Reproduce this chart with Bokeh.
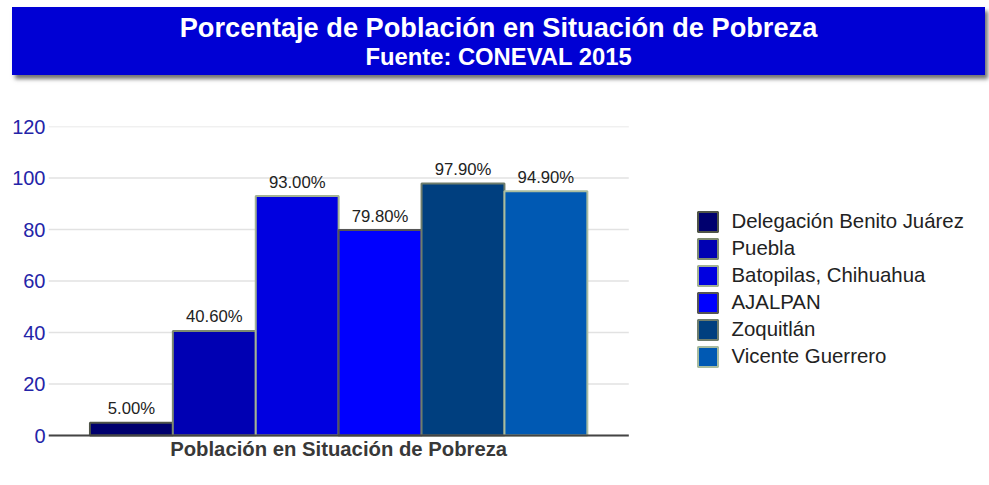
from bokeh.plotting import figure
from bokeh.models import (Range1d, FixedTicker, Legend, LegendItem, ColumnDataSource, Div)
from bokeh.layouts import column
from bokeh.core.properties import value
from bokeh.embed import file_html
from bokeh.resources import INLINE

# ---- data ----
title_line1 = "Porcentaje de Población en Situación de Pobreza"
title_line2 = "Fuente: CONEVAL 2015"
category_label = "Población en Situación de Pobreza"
series_names = ["Delegación Benito Juárez", "Puebla", "Batopilas, Chihuahua",
                "AJALPAN", "Zoquitlán", "Vicente Guerrero"]
series_values = [5.0, 40.6, 93.0, 79.8, 97.9, 94.9]
y_ticks = [0, 20, 40, 60, 80, 100, 120]

# ---- styles ----
fill_colors = ["#00006e", "#0000b3", "#0000e0", "#0000ff", "#003f7f", "#0059b3"]
line_colors = ["#4f5448", "#7d8a70", "#a3b293", "#555555", "#6e7d6c", "#a8bca0"]
FONT = "Liberation Sans"
W = 989
HB = 90
HC = 485 - HB

banner_html = (
    '<div style="position:relative;width:%dpx;height:%dpx;'
    "font-family:'Liberation Sans',Arial,sans-serif;font-weight:bold;color:#ffffff;\">"
    '<div style="position:absolute;left:12px;top:7px;width:973px;height:68px;'
    'background:#0000d4;box-shadow:3px 4px 4px rgba(0,0,0,0.55);"></div>'
    '<div style="position:absolute;left:12px;width:973px;top:14px;text-align:center;'
    'font-size:27.2px;line-height:27px;white-space:nowrap;">%s</div>'
    '<div style="position:absolute;left:12px;width:973px;top:45px;text-align:center;'
    'font-size:23.8px;line-height:23.5px;white-space:nowrap;">%s</div>'
    '</div>'
) % (W, HB, title_line1, title_line2)
banner = Div(text=banner_html, width=W, height=HB, margin=0)

# scale: 120 units over 309 px vertically, one bar = 82.9 px horizontally
BT, BL = 36, 48
px_per_unit_y = 309 / 120
px_per_unit_x = 82.9
frame_h = HC - BT
frame_w = W - BL
p = figure(width=W, height=HC, output_backend="svg", toolbar_location=None,
           x_range=Range1d(0, frame_w / px_per_unit_x),
           y_range=Range1d(120 - frame_h / px_per_unit_y, 120),
           min_border_left=BL, min_border_right=0, min_border_top=BT,
           min_border_bottom=0, outline_line_color=None, margin=0)

xs = list(range(1, len(series_values) + 1))
x_lo, x_hi = 0, len(xs) + 1

# grid lines (only across the plotting area)
grid_src = ColumnDataSource(dict(x0=[x_lo] * len(y_ticks), x1=[x_hi] * len(y_ticks),
                                 y=y_ticks))
p.segment(x0="x0", x1="x1", y0="y", y1="y", source=grid_src,
          line_color="#e2e2e2", line_width=1.5)

src = ColumnDataSource(dict(x=xs, top=series_values,
                            lab=["%.2f%%" % v for v in series_values]))
items = []
for i in range(len(series_values)):
    r = p.vbar(x=[xs[i]], top=[series_values[i]], width=1.0, bottom=0,
               fill_color=fill_colors[i], line_color=line_colors[i], line_width=2)
    items.append(LegendItem(label=series_names[i], renderers=[r]))

# category axis line
p.segment(x0=[x_lo], x1=[x_hi], y0=[0], y1=[0], line_color="#444444", line_width=2)

p.text(x="x", y="top", text="lab", source=src, text_align="center",
       text_baseline="alphabetic", y_offset=-14, text_color="#222222",
       text_font=value(FONT), text_font_size="16.7px")

p.text(x=[sum(xs) / len(xs)], y=[0], text=[category_label], text_align="center",
       text_baseline="alphabetic", y_offset=13, text_color="#383838",
       text_font=value(FONT), text_font_style="bold", text_font_size="20.3px")

p.xgrid.visible = False
p.ygrid.visible = False
p.xaxis.visible = False

p.yaxis.ticker = FixedTicker(ticks=y_ticks)
p.yaxis.axis_line_color = None
p.yaxis.major_tick_line_color = None
p.yaxis.minor_tick_line_color = None
p.yaxis.major_tick_out = 0
p.yaxis.major_tick_in = 0
p.yaxis.minor_tick_out = 0
p.yaxis.minor_tick_in = 0
p.yaxis.major_label_text_color = "#2424a8"
p.yaxis.major_label_text_font = FONT
p.yaxis.major_label_text_font_size = "20px"
p.yaxis.major_label_standoff = 3

legend = Legend(items=items, location=(646.5, 116), glyph_width=25, glyph_height=25,
                spacing=2, padding=0, margin=0, label_standoff=12,
                label_text_font=FONT, label_text_font_size="20.4px",
                label_text_color="#222222", border_line_color=None,
                background_fill_alpha=0)
p.add_layout(legend, "center")

layout = column(banner, p, spacing=0)
open("out.html", "w").write(file_html(layout, INLINE))
